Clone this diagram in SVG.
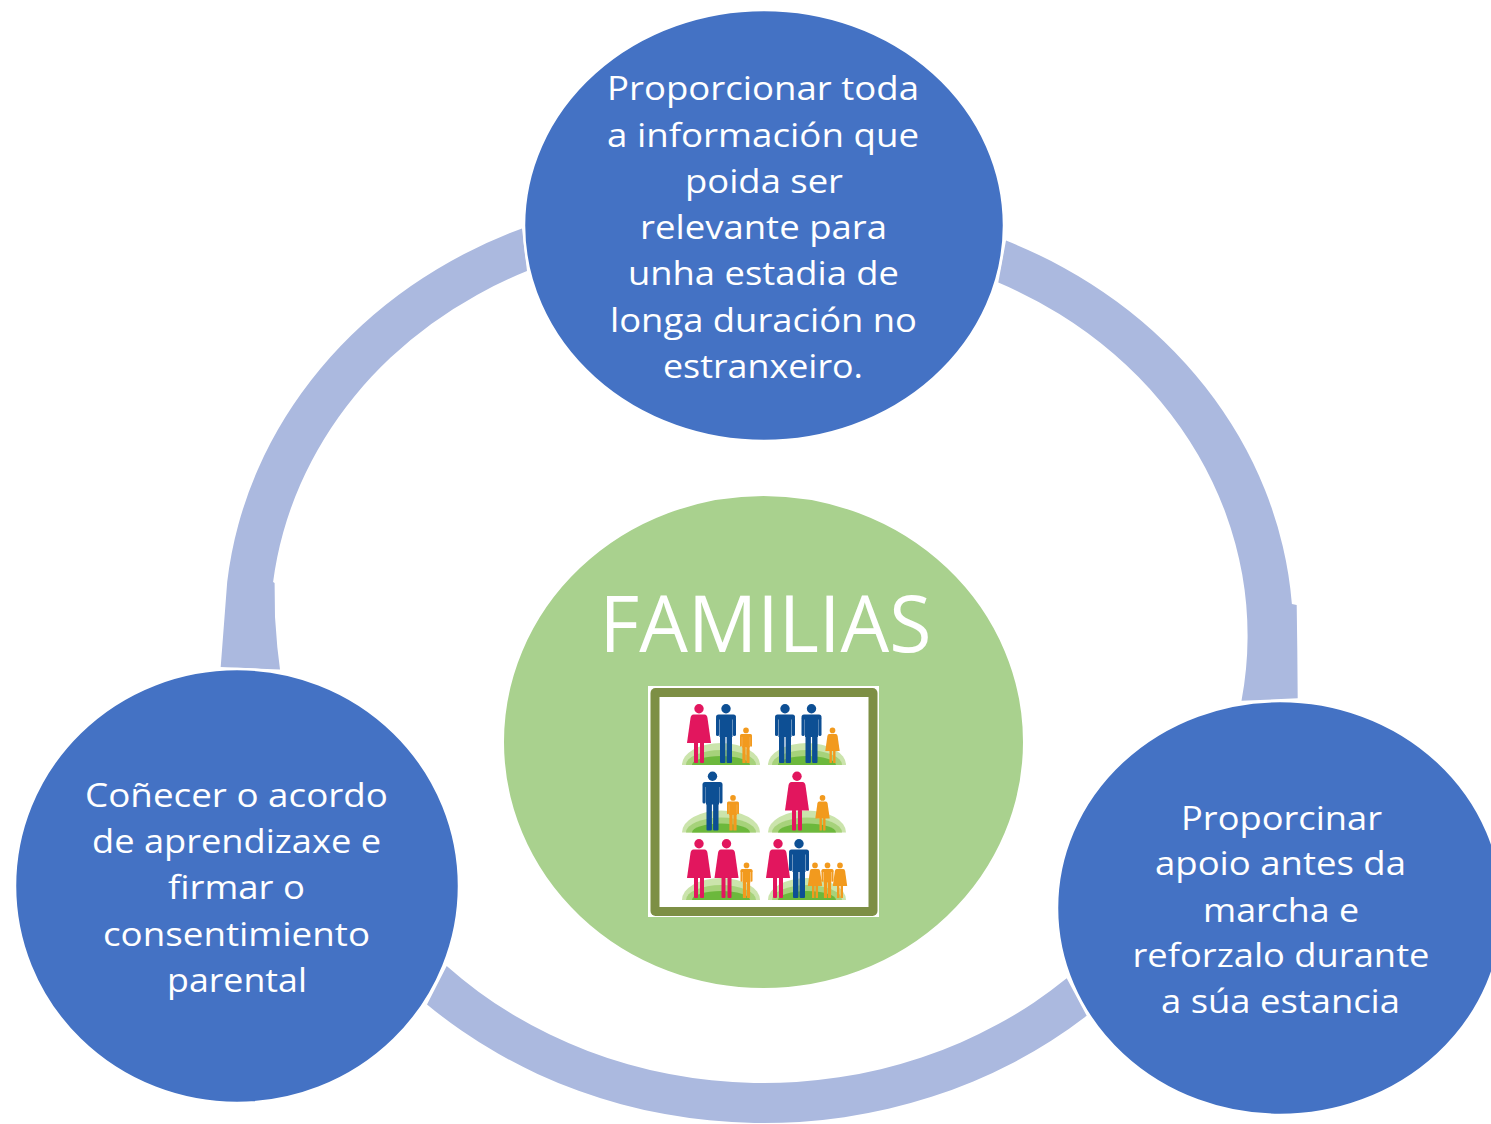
<svg xmlns="http://www.w3.org/2000/svg" xmlns:xlink="http://www.w3.org/1999/xlink" width="1491" height="1124" viewBox="0 0 1491 1124">
<style>
.ring{fill:#ABB9DF}
.node{fill:#4472C4;stroke:#FFFFFF;stroke-width:2.5}
.center{fill:#A9D18E;stroke:#FFFFFF;stroke-width:2}
.t{font-family:"Open Sans","Liberation Sans",sans-serif;font-size:32px;fill:#FFFFFF;text-anchor:middle}
.big{font-family:"Open Sans","Liberation Sans",sans-serif;font-size:78px;fill:#FFFFFF;text-anchor:middle}
.f{fill:#E2165E}
.m{fill:#0D4F94}
.c{fill:#F29A1E}
</style>
<defs>
<g id="man">
<circle cx="0" cy="-54.3" r="4.7"/>
<rect x="-10" y="-48.5" width="20" height="5" rx="2.5"/>
<rect x="-6.5" y="-47" width="13" height="21"/>
<rect x="-10" y="-46" width="3.2" height="19" rx="1.6"/>
<rect x="6.8" y="-46" width="3.2" height="19" rx="1.6"/>
<rect x="-6" y="-28" width="5.4" height="28" rx="1"/>
<rect x="0.6" y="-28" width="5.4" height="28" rx="1"/>
</g>
<g id="woman">
<circle cx="0" cy="-54.3" r="4.7"/>
<path d="M-5.5,-48.5 H5.5 Q8,-48.5 8.5,-45 L12,-20 H-12 L-8.5,-45 Q-8,-48.5 -5.5,-48.5 Z"/>
<rect x="-5" y="-21" width="4" height="21" rx="1"/>
<rect x="1" y="-21" width="4" height="21" rx="1"/>
</g>
<g id="boy"><use xlink:href="#man" transform="scale(0.6)"/></g>
<g id="girl"><use xlink:href="#woman" transform="scale(0.6)"/></g>
<g id="hill">
<path d="M-39,0 A39,22 0 0 1 39,0 Z" fill="#CBE4AC"/>
<path d="M-35,0 A35,15 0 0 1 35,0 Z" fill="#A6D27A"/>
<path d="M-29,0 A29,9 0 0 1 29,0 Z" fill="#6CB83C"/>
</g>
</defs>
<rect width="1491" height="1124" fill="#FFFFFF"/>

<g id="connectors">
<path id="arc-left" class="ring" d="M220.7,667 L222,650 L227.2,582 A480.7,431.5 0 0,1 522,228.4 L527,271.1 A435,390.5 0 0,0 273.1,582 L274.6,583 L275,617 L277.3,647 L280,669.5 Z"/>
<path id="arc-right" class="ring" d="M1006,240.6 A480.7,431.5 0 0,1 1291.9,604 L1296.7,605 L1297.3,650 L1297.7,698.3 L1241.5,700.7 A435,390.5 0 0,0 998.3,282.5 Z"/>
<path id="arc-bottom" class="ring" d="M1086.7,1015.8 A495.7,445 0 0,1 427,1004.4 L446.7,966 A451.2,405 0 0,0 1066.7,978.3 Z"/>
</g>

<g id="node-top">
<ellipse class="node" cx="764" cy="225.5" rx="240" ry="215.5"/>
<text class="t" x="763" y="100" textLength="312" lengthAdjust="spacingAndGlyphs">Proporcionar toda</text>
<text class="t" x="763" y="146.5" textLength="312" lengthAdjust="spacingAndGlyphs">a información que</text>
<text class="t" x="764" y="192.5" textLength="158" lengthAdjust="spacingAndGlyphs">poida ser</text>
<text class="t" x="763.5" y="239" textLength="247" lengthAdjust="spacingAndGlyphs">relevante para</text>
<text class="t" x="763.5" y="285" textLength="271" lengthAdjust="spacingAndGlyphs">unha estadia de</text>
<text class="t" x="763.5" y="331.5" textLength="307" lengthAdjust="spacingAndGlyphs">longa duración no</text>
<text class="t" x="763" y="377.5" textLength="200" lengthAdjust="spacingAndGlyphs">estranxeiro.</text>
</g>

<g id="node-left">
<ellipse class="node" cx="237" cy="886" rx="222" ry="217"/>
<text class="t" x="236.5" y="807" textLength="303" lengthAdjust="spacingAndGlyphs">Coñecer o acordo</text>
<text class="t" x="236.5" y="853" textLength="289" lengthAdjust="spacingAndGlyphs">de aprendizaxe e</text>
<text class="t" x="236.5" y="899" textLength="137" lengthAdjust="spacingAndGlyphs">firmar o</text>
<text class="t" x="236.5" y="946" textLength="267" lengthAdjust="spacingAndGlyphs">consentimiento</text>
<text class="t" x="237" y="992" textLength="140" lengthAdjust="spacingAndGlyphs">parental</text>
</g>

<g id="node-right">
<ellipse class="node" cx="1280" cy="908" rx="223" ry="207"/>
<text class="t" x="1281.5" y="830" textLength="201" lengthAdjust="spacingAndGlyphs">Proporcinar</text>
<text class="t" x="1280.5" y="875" textLength="251" lengthAdjust="spacingAndGlyphs">apoio antes da</text>
<text class="t" x="1281" y="921.5" textLength="156" lengthAdjust="spacingAndGlyphs">marcha e</text>
<text class="t" x="1281" y="967" textLength="297" lengthAdjust="spacingAndGlyphs">reforzalo durante</text>
<text class="t" x="1280.5" y="1013" textLength="239" lengthAdjust="spacingAndGlyphs">a súa estancia</text>
</g>

<g id="node-center">
<ellipse class="center" cx="763.5" cy="742" rx="260.5" ry="247"/>
<text class="big" x="765.5" y="652" textLength="332" lengthAdjust="spacingAndGlyphs">FAMILIAS</text>
<g id="family-picture">
<rect x="648" y="686" width="231" height="231" fill="#FFFFFF"/>
<rect x="650.5" y="688" width="227" height="228" rx="5" fill="#7D8F45"/>
<rect x="659.5" y="697" width="209" height="210" fill="#FFFFFF"/>
<use xlink:href="#hill" x="721" y="765"/>
<use xlink:href="#hill" x="807" y="765"/>
<use xlink:href="#hill" x="721" y="832.5"/>
<use xlink:href="#hill" x="807" y="832.5"/>
<use xlink:href="#hill" x="721" y="900"/>
<use xlink:href="#hill" x="807" y="900"/>
<use xlink:href="#woman" class="f" x="699" y="763"/>
<use xlink:href="#man" class="m" x="726" y="763"/>
<use xlink:href="#boy" class="c" x="746" y="763"/>
<use xlink:href="#man" class="m" x="785" y="763"/>
<use xlink:href="#man" class="m" x="811.5" y="763"/>
<use xlink:href="#girl" class="c" x="832.5" y="763"/>
<use xlink:href="#man" class="m" x="712.5" y="830.5"/>
<use xlink:href="#boy" class="c" x="733" y="830.5"/>
<use xlink:href="#woman" class="f" x="797" y="830.5"/>
<use xlink:href="#girl" class="c" x="822.5" y="830.5"/>
<use xlink:href="#woman" class="f" x="699" y="898"/>
<use xlink:href="#woman" class="f" x="726.5" y="898"/>
<use xlink:href="#boy" class="c" x="746.5" y="898"/>
<use xlink:href="#woman" class="f" x="778" y="898"/>
<use xlink:href="#man" class="m" x="799" y="898"/>
<use xlink:href="#girl" class="c" x="815" y="898"/>
<use xlink:href="#boy" class="c" x="827.5" y="898"/>
<use xlink:href="#girl" class="c" x="840" y="898"/>
</g>
</g>
</svg>
